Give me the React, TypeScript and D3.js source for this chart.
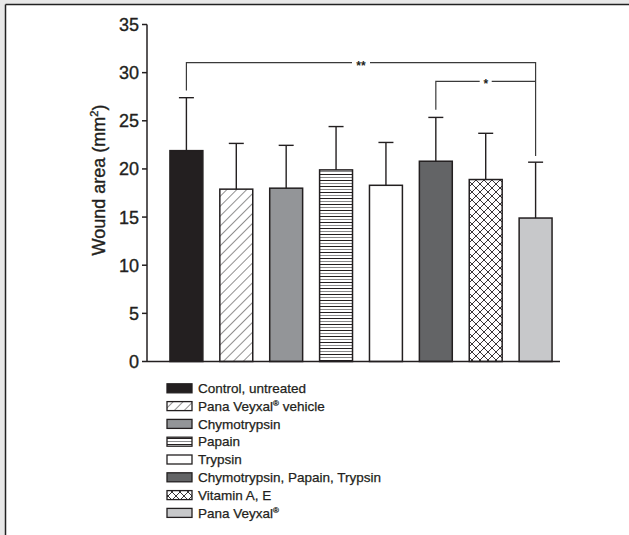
import React from 'react';
import * as d3 from 'd3';

const categories = [
  'Control, untreated',
  'Pana Veyxal® vehicle',
  'Chymotrypsin',
  'Papain',
  'Trypsin',
  'Chymotrypsin, Papain, Trypsin',
  'Vitamin A, E',
  'Pana Veyxal®',
];
const means = [21.9, 17.9, 18.0, 19.9, 18.3, 20.8, 18.9, 14.9];
const errors = [5.5, 4.75, 4.45, 4.5, 4.45, 4.55, 4.8, 5.8];
const yTicks = [0, 5, 10, 15, 20, 25, 30, 35];
const fills = ['#231f20', 'url(#diag)', '#939598', 'url(#horiz)', '#ffffff', '#636466', 'url(#cross)', '#c7c8ca'];

// significance brackets: from/to bar index, line level, leg ends
const brackets = [
  { from: 0, to: 7, level: 31.05, leftEnd: 28.15, rightEnd: 21.35, label: '**', gap: 9 },
  { from: 5, to: 7, level: 29.1, leftEnd: 26.15, rightEnd: 29.1, label: '*', gap: 6 },
];

const W = 629;
const H = 535;

const ink = '#231f20';

// "®" drawn as a small superscript
const withReg = (s: string) => {
  const k = s.indexOf('®');
  if (k < 0) return s;
  const rest = s.slice(k + 1);
  return (
    <>
      {s.slice(0, k)}
      <tspan fontSize="8" dy="-5">®</tspan>
      {rest && <tspan dy="5">{rest}</tspan>}
    </>
  );
};

export default function App() {
  const y = d3.scaleLinear().domain([0, 35]).range([361.5, 24.5]);
  const x = d3.scaleBand<string>().domain(categories).range([145, 577]).paddingInner(0.34).paddingOuter(0.5);
  const bw = x.bandwidth();
  const cx = (i: number) => (x(categories[i]) as number) + bw / 2;

  const axisX = 147;
  const axisEnd = 560;

  const legendX = 167;
  const legendY0 = 388.3;
  const legendStep = 17.8;

  return (
    <svg width={W} height={H} style={{ position: 'absolute', left: 0, top: 0 }} fontFamily="'Liberation Sans', Arial, sans-serif">
      <defs>
        <pattern id="diag" patternUnits="userSpaceOnUse" width="7" height="7" patternTransform="rotate(45)">
          <rect width="7" height="7" fill="#fff" />
          <line x1="0" y1="0" x2="0" y2="7" stroke={ink} strokeWidth="1" />
        </pattern>
        <pattern id="cross" patternUnits="userSpaceOnUse" width="8" height="8">
          <rect width="8" height="8" fill="#fff" />
          <path d="M0,0 L8,8 M8,0 L0,8" stroke={ink} strokeWidth="0.9" />
        </pattern>
        <pattern id="horiz" patternUnits="userSpaceOnUse" width="6" height="6">
          <rect width="6" height="6" fill="#fff" />
          <line x1="0" y1="0.5" x2="6" y2="0.5" stroke={ink} strokeWidth="1" />
          <line x1="0" y1="3.5" x2="6" y2="3.5" stroke="#8a8a8c" strokeWidth="1" />
        </pattern>
      </defs>

      {/* page frame */}
      <rect x={0} y={0} width={W} height={H} fill="#e8e8e8" />
      <rect x={5} y={4} width={W - 5} height={H - 4} fill="#fff" />
      <line x1={5.5} y1={4.5} x2={W} y2={4.5} stroke="#222" strokeWidth={1.5} />
      <line x1={5.5} y1={4.5} x2={5.5} y2={H} stroke="#222" strokeWidth={1.5} />

      {/* y axis */}
      <line x1={axisX} y1={y(35)} x2={axisX} y2={y(0)} stroke={ink} strokeWidth={1.5} />
      {yTicks.map((t) => (
        <g key={t}>
          <line x1={axisX - 5} x2={axisX} y1={y(t)} y2={y(t)} stroke={ink} strokeWidth={1.5} />
          <text x={axisX - 8} y={y(t)} dy="0.36em" textAnchor="end" fontSize="18" fill={ink} stroke={ink} strokeWidth={0.35}>
            {t}
          </text>
        </g>
      ))}
      <text transform={`translate(105,180) rotate(-90)`} textAnchor="middle" fontSize="18" fill={ink} stroke={ink} strokeWidth={0.35}>
        Wound area (mm<tspan fontSize="11" dy="-7">2</tspan>
        <tspan dy="7">)</tspan>
      </text>

      {/* bars */}
      {means.map((m, i) => (
        <rect
          key={categories[i]}
          x={x(categories[i])}
          y={y(m)}
          width={bw}
          height={y(0) - y(m)}
          fill={fills[i]}
          stroke={ink}
          strokeWidth={1.5}
        />
      ))}

      {/* error bars */}
      {means.map((m, i) => (
        <g key={'e' + i} stroke={ink} strokeWidth={1.4}>
          <line x1={cx(i)} x2={cx(i)} y1={y(m)} y2={y(m + errors[i])} />
          <line x1={cx(i) - 7.5} x2={cx(i) + 7.5} y1={y(m + errors[i])} y2={y(m + errors[i])} />
        </g>
      ))}

      {/* x axis */}
      <line x1={axisX} x2={axisEnd} y1={y(0)} y2={y(0)} stroke={ink} strokeWidth={1.5} />

      {/* significance */}
      {brackets.map((b) => {
        const x1 = cx(b.from);
        const x2 = cx(b.to);
        const mid = (x1 + x2) / 2;
        const ly = y(b.level);
        return (
          <g key={b.label} stroke="#3a3a3a" strokeWidth={1.2} fill="none">
            <path d={`M${x1},${y(b.leftEnd)} V${ly} H${mid - b.gap}`} />
            <path d={`M${mid + b.gap},${ly} H${x2} V${y(b.rightEnd)}`} />
            <text x={mid} y={ly + 7} textAnchor="middle" fontSize="12" fontWeight="bold" fill={ink} stroke="none">
              {b.label}
            </text>
          </g>
        );
      })}

      {/* legend */}
      {categories.map((c, i) => {
        const cy = legendY0 + i * legendStep;
        return (
          <g key={'l' + i}>
            <rect x={legendX} y={cy - 4.5} width={25} height={9} fill={fills[i]} stroke={ink} strokeWidth={1.3} />
            <text x={legendX + 31} y={cy + 4.6} fontSize="13.5" fill={ink} stroke={ink} strokeWidth={0.25}>
              {withReg(c)}
            </text>
          </g>
        );
      })}
    </svg>
  );
}
